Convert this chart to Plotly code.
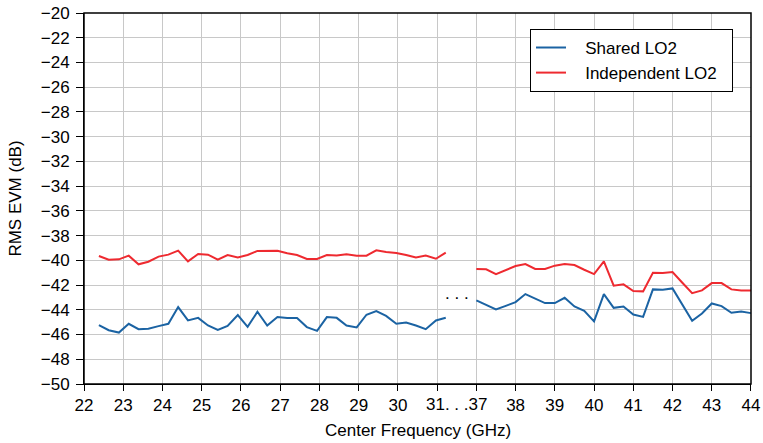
import plotly.graph_objects as go

# band 1 (22-31 GHz) and band 2 (37-44 GHz)
freq_low = [22.38, 22.63, 22.89, 23.14, 23.39, 23.64, 23.90, 24.15, 24.40, 24.65,
            24.91, 25.16, 25.41, 25.66, 25.92, 26.17, 26.42, 26.67, 26.93, 27.18,
            27.43, 27.68, 27.94, 28.19, 28.44, 28.69, 28.95, 29.20, 29.45, 29.70,
            29.96, 30.21, 30.46, 30.71, 30.97, 31.22]
freq_high = [37.0, 37.25, 37.5, 37.75, 38.0, 38.25, 38.5, 38.75, 39.0, 39.25,
             39.5, 39.75, 40.0, 40.25, 40.5, 40.75, 41.0, 41.25, 41.5, 41.75,
             42.0, 42.25, 42.5, 42.75, 43.0, 43.25, 43.5, 43.75, 44.0]

shared_low = [-45.24, -45.65, -45.84, -45.13, -45.57, -45.54, -45.32, -45.13, -43.78, -44.86,
              -44.65, -45.27, -45.62, -45.30, -44.43, -45.38, -44.16, -45.27, -44.59, -44.67,
              -44.67, -45.40, -45.70, -44.59, -44.65, -45.27, -45.43, -44.40, -44.11, -44.49,
              -45.13, -45.03, -45.27, -45.57, -44.86, -44.65]
indep_low = [-39.65, -39.95, -39.92, -39.62, -40.32, -40.11, -39.70, -39.54, -39.22, -40.08,
             -39.49, -39.54, -39.95, -39.57, -39.76, -39.57, -39.24, -39.24, -39.22, -39.43,
             -39.57, -39.89, -39.89, -39.57, -39.60, -39.51, -39.62, -39.62, -39.19, -39.33,
             -39.41, -39.57, -39.76, -39.62, -39.87, -39.38]

shared_high = [-43.24, -43.60, -43.97, -43.68, -43.38, -42.73, -43.08, -43.46, -43.46, -43.03,
               -43.73, -44.08, -44.94, -42.73, -43.84, -43.73, -44.38, -44.57, -42.35, -42.38,
               -42.27, -43.57, -44.89, -44.30, -43.49, -43.70, -44.24, -44.13, -44.27]
indep_high = [-40.70, -40.73, -41.11, -40.78, -40.46, -40.30, -40.70, -40.70, -40.43, -40.30,
              -40.38, -40.76, -41.11, -40.08, -42.05, -41.94, -42.48, -42.51, -41.00, -41.03,
              -40.94, -41.81, -42.65, -42.43, -41.84, -41.84, -42.35, -42.43, -42.43]

ticks_low = list(range(22, 32))
ticks_high = list(range(37, 45))

BLUE = "#1b63a3"
RED = "#ee2a30"
GRID = "#c8c8c8"
FONT = "Liberation Sans, Arial, sans-serif"
split = 9.5 / 17
pad = "\u00a0\u00a0\u00a0"

fig = go.Figure()
fig.add_trace(go.Scatter(x=freq_low, y=shared_low, mode="lines", name=pad + "Shared LO2",
                         line=dict(color=BLUE, width=2)))
fig.add_trace(go.Scatter(x=freq_low, y=indep_low, mode="lines",
                         name=pad + "Independent LO2\u00a0\u00a0",
                         line=dict(color=RED, width=2)))
fig.add_trace(go.Scatter(x=freq_high, y=shared_high, mode="lines", showlegend=False,
                         line=dict(color=BLUE, width=2), xaxis="x2"))
fig.add_trace(go.Scatter(x=freq_high, y=indep_high, mode="lines", showlegend=False,
                         line=dict(color=RED, width=2), xaxis="x2"))

xcommon = dict(showgrid=True, gridcolor=GRID, gridwidth=1, zeroline=False,
               showline=True, linecolor="black", linewidth=1, automargin=False,
               ticks="outside", ticklen=6, tickcolor="black",
               tickfont=dict(size=17, color="black"))

fig.update_layout(
    width=763, height=443,
    margin=dict(l=84, r=12, t=13, b=59),
    paper_bgcolor="white", plot_bgcolor="white",
    font=dict(family=FONT, size=17, color="black"),
    xaxis=dict(domain=[0, split], range=[22, 31.5], tickvals=ticks_low,
               ticktext=[str(t) for t in ticks_low[:-1]] + [""], **xcommon),
    xaxis2=dict(domain=[split, 1], range=[36.5, 44], tickvals=ticks_high,
                ticktext=[""] + [str(t) for t in ticks_high[1:]], anchor="y", **xcommon),
    yaxis=dict(range=[-50, -20], dtick=2, showgrid=True, gridcolor=GRID, zeroline=False,
               showline=True, linecolor="black", linewidth=1, automargin=False,
               ticks="outside", ticklen=7, tickcolor="black", ticklabelstandoff=3,
               tickfont=dict(size=17, color="black"),
               title=dict(text="RMS EVM (dB)", font=dict(size=17), standoff=14)),
    legend=dict(x=0.6687, y=0.957, xanchor="left", yanchor="top",
                bgcolor="white", bordercolor="black", borderwidth=1,
                font=dict(size=17), tracegroupgap=0),
    showlegend=True,
)

# frame around the plot
fig.add_shape(type="rect", xref="paper", yref="paper", x0=0, x1=1, y0=0, y1=1,
              line=dict(color="black", width=1.5))

fig.add_annotation(text="31. . .37", xref="paper", yref="paper", x=split, y=-0.055,
                   showarrow=False, font=dict(size=17), yanchor="middle")
fig.add_annotation(text=". . .", xref="paper", yref="y", x=split, y=-42.7,
                   showarrow=False, font=dict(size=17), yanchor="middle")
fig.add_annotation(text="Center Frequency (GHz)", xref="paper", yref="paper", x=0.5, y=-0.125,
                   showarrow=False, font=dict(size=17), yanchor="middle")

# page body has an 8px default margin; drop it so the figure fills the window
fig.write_html("out.html", config={"displayModeBar": False},
               post_script="document.body.style.margin='0';")
